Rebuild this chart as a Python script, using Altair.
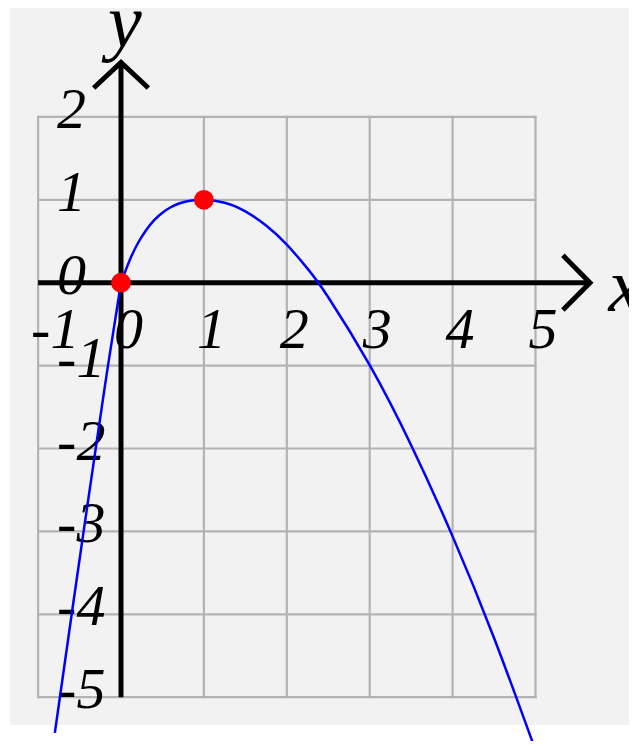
import altair as alt
import pandas as pd

# ---- data ----
# left branch (x <= 0) and right branch (x >= 0) of the blue curve
left_x = [-0.798, -0.737, -0.595, -0.451, -0.305, -0.157, 0.0]
left_y = [-5.43, -5.0, -4.0, -3.0, -2.0, -1.0, 0.0]
right_x = [0.0, 0.1, 0.2, 0.3, 0.4, 0.5, 0.6, 0.7, 0.8, 0.9, 1.0,
           1.25, 1.5, 1.75, 2.0, 2.25, 2.5, 3.0, 3.5, 4.0, 4.5, 5.0]
right_y = [0.0, 0.26, 0.47, 0.63, 0.755, 0.845, 0.91, 0.955, 0.983, 0.997, 1.0,
           0.965, 0.86, 0.69, 0.46, 0.17, -0.175, -0.995, -1.96, -3.06, -4.285, -5.64]
point_x = [0, 1]
point_y = [0, 1]
grid_x = [-1, 0, 1, 2, 3, 4, 5]
grid_y = [-5, -4, -3, -2, -1, 0, 1, 2]
x_tick_labels = ["-1", "0", "1", "2", "3", "4", "5"]
y_tick_labels = ["-5", "-4", "-3", "-2", "-1", "0", "1", "2"]

# ---- scale setup (pixels per unit, origin in chart pixels) ----
W, H = 621, 733
U = 82.9
OX, OY = 113.0, 274.7
XMIN = -OX / U
XMAX = XMIN + W / U
YMAX = OY / U
YMIN = YMAX - H / U

xs = alt.Scale(domain=[XMIN, XMAX], nice=False, zero=False)
ys = alt.Scale(domain=[YMIN, YMAX], nice=False, zero=False)


def X(f):
    return alt.X(f, type="quantitative", scale=xs, axis=None)


def Y(f):
    return alt.Y(f, type="quantitative", scale=ys, axis=None)


FONT = "Liberation Serif"

bg_df = pd.DataFrame({"x0": [-1.339], "x1": [XMAX + 1], "y0": [-5.335], "y1": [YMAX + 1]})
bg = alt.Chart(bg_df).mark_rect(color="#f2f2f2", clip=True).encode(
    x=X("x0"), x2="x1", y=Y("y0"), y2="y1")

vgrid_df = pd.DataFrame({"gx": grid_x, "y0": [min(grid_y)] * len(grid_x), "y1": [max(grid_y)] * len(grid_x)})
hgrid_df = pd.DataFrame({"gy": grid_y, "x0": [min(grid_x)] * len(grid_y), "x1": [max(grid_x)] * len(grid_y)})
vgrid = alt.Chart(vgrid_df).mark_rule(color="#b3b3b3", strokeWidth=2.2, strokeCap="square").encode(
    x=X("gx"), y=Y("y0"), y2="y1")
hgrid = alt.Chart(hgrid_df).mark_rule(color="#b3b3b3", strokeWidth=2.2, strokeCap="square").encode(
    y=Y("gy"), x=X("x0"), x2="x1")

ylab_df = pd.DataFrame({"lx": [min(grid_x)] * len(grid_y), "v": grid_y, "lab": y_tick_labels})
ylabs = alt.Chart(ylab_df).mark_text(font=FONT, fontStyle="italic", fontSize=58, align="left",
                                     baseline="alphabetic", dx=19, dy=11, color="black").encode(
    x=X("lx"), y=Y("v"), text="lab:N")

xlab_df = pd.DataFrame({"v": grid_x, "ly": [0] * len(grid_x), "lab": x_tick_labels})
xlabs = alt.Chart(xlab_df).mark_text(font=FONT, fontStyle="italic", fontSize=58, align="left",
                                     baseline="alphabetic", dx=-7, dy=65, color="black").encode(
    x=X("v"), y=Y("ly"), text="lab:N")

name_df = pd.DataFrame({"nx": [0.0, 5.88], "ny": [2.888, 0.0], "lab": ["y", "x"]})
ylet = alt.Chart(name_df.iloc[[0]]).mark_text(font=FONT, fontStyle="italic", fontSize=76, align="left",
                                              baseline="alphabetic", dx=-13, dy=4, color="black").encode(
    x=X("nx"), y=Y("ny"), text="lab:N")
xlet = alt.Chart(name_df.iloc[[1]]).mark_text(font=FONT, fontStyle="italic", fontSize=76, align="left",
                                              baseline="alphabetic", dy=28, color="black").encode(
    x=X("nx"), y=Y("ny"), text="lab:N")

axes_df = pd.DataFrame({
    "seg": ["xa", "xa", "ya", "ya", "xr", "xr", "xr", "yr", "yr", "yr"],
    "ord": [0, 1, 0, 1, 0, 1, 2, 0, 1, 2],
    "ax": [-1, 5.657, 0, 0, 5.33, 5.657, 5.33, -0.33, 0, 0.33],
    "ay": [0, 0, -5, 2.656, 0.33, 0, -0.33, 2.349, 2.656, 2.349],
})
axes = alt.Chart(axes_df).mark_line(color="black", strokeWidth=5, strokeJoin="miter", strokeCap="butt").encode(
    x=X("ax"), y=Y("ay"), detail="seg:N", order="ord:Q")

curve_df = pd.DataFrame({
    "x": left_x + right_x,
    "y": left_y + right_y,
    "branch": ["left"] * len(left_x) + ["right"] * len(right_x),
})
curve = alt.Chart(curve_df).mark_line(color="#0000ff", strokeWidth=2.5, interpolate="natural", clip=True).encode(
    x=X("x"), y=Y("y"), detail="branch:N")

pts_df = pd.DataFrame({"x": point_x, "y": point_y})
pts = alt.Chart(pts_df).mark_circle(color="#ff0000", size=390, opacity=1).encode(
    x=X("x"), y=Y("y"))

chart = alt.layer(bg, vgrid, hgrid, ylabs, xlabs, ylet, xlet, axes, curve, pts).properties(
    width=W, height=H, padding=0, autosize=alt.AutoSizeParams(type="none"), background="white"
).configure_view(stroke=None)

chart.save("out.html", embed_options={"renderer": "svg", "actions": False})
